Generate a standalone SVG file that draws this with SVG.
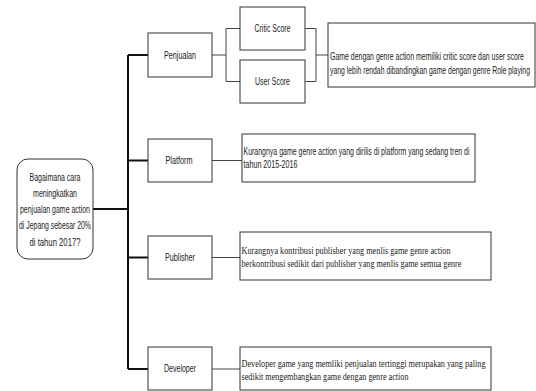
<svg xmlns="http://www.w3.org/2000/svg" width="536" height="391" viewBox="0 0 536 391">
<style>
.box{fill:#fff;stroke:#333;stroke-width:1}
.t{font-family:"Liberation Sans",Arial,sans-serif;font-size:10px;fill:#222}
.s{font-family:"Liberation Serif","Times New Roman",serif;font-size:10.5px;fill:#222}
.c{text-anchor:middle}
.thin{fill:none;stroke:#444;stroke-width:1}
.thick{fill:none;stroke:#111;stroke-width:2}
</style>
<rect width="536" height="391" fill="#fff"/>
<g id="connectors">
<path class="thick" d="M93,209 H128 M128,55 V369 M128,55 H148 M128,160.5 H148 M128,257.5 H148 M128,369 H148"/>
<path class="thin" d="M212,55 H226 M226,28.5 V81.5 M226,28.5 H240 M226,81.5 H240 M305,28.5 H316 M305,81.5 H316 M316,28.5 V81.5 M316,55 H328"/>
<path class="thin" d="M212,160.5 H242 M212,257.5 H240 M212,369 H240"/>
</g>
<g id="root">
<rect class="box" x="17" y="159" width="76" height="100" rx="11"/>
<text class="t c" x="55" y="180.5" textLength="51" lengthAdjust="spacingAndGlyphs">Bagaimana cara</text>
<text class="t c" x="55" y="196.5" textLength="44" lengthAdjust="spacingAndGlyphs">meningkatkan</text>
<text class="t c" x="55" y="212.5" textLength="70" lengthAdjust="spacingAndGlyphs">penjualan game action</text>
<text class="t c" x="55" y="229" textLength="72" lengthAdjust="spacingAndGlyphs">di Jepang sebesar 20%</text>
<text class="t c" x="55" y="245.5" textLength="51" lengthAdjust="spacingAndGlyphs">di tahun 2017?</text>
</g>
<g id="penjualan">
<rect class="box" x="148" y="33" width="64" height="44"/>
<text class="t c" x="180" y="58.5" textLength="32" lengthAdjust="spacingAndGlyphs">Penjualan</text>
</g>
<g id="critic">
<rect class="box" x="240" y="7" width="65" height="43"/>
<text class="t c" x="272.5" y="32" textLength="36" lengthAdjust="spacingAndGlyphs">Critic Score</text>
</g>
<g id="user">
<rect class="box" x="240" y="60" width="65" height="43"/>
<text class="t c" x="272.5" y="85" textLength="35" lengthAdjust="spacingAndGlyphs">User Score</text>
</g>
<g id="penjualan-desc">
<rect class="box" x="328" y="23" width="207" height="64"/>
<g transform="translate(330,0) scale(0.78,1)">
<text class="t" x="0" y="60" font-size="9" textLength="248.7" lengthAdjust="spacingAndGlyphs">Game dengan genre action memiliki critic score dan user score</text>
<text class="t" x="0" y="74" font-size="9" textLength="256.4" lengthAdjust="spacingAndGlyphs">yang lebih rendah dibandingkan game dengan genre Role playing</text>
</g>
</g>
<g id="platform">
<rect class="box" x="148" y="139" width="64" height="43"/>
<text class="t c" x="179" y="164" textLength="27" lengthAdjust="spacingAndGlyphs">Platform</text>
</g>
<g id="platform-desc">
<rect class="box" x="242" y="134" width="233" height="48"/>
<g transform="translate(243.5,0) scale(0.72,1)">
<text class="t" x="0" y="155.5" textLength="313.9" lengthAdjust="spacingAndGlyphs">Kurangnya game genre action yang dirilis di platform yang sedang tren di</text>
<text class="t" x="0" y="168.5" textLength="75" lengthAdjust="spacingAndGlyphs">tahun 2015-2016</text>
</g>
</g>
<g id="publisher">
<rect class="box" x="148" y="236" width="64" height="43"/>
<text class="t c" x="180" y="261" textLength="30" lengthAdjust="spacingAndGlyphs">Publisher</text>
</g>
<g id="publisher-desc">
<rect class="box" x="240" y="232" width="251" height="48"/>
<text class="s" x="241.5" y="253.5" textLength="209" lengthAdjust="spacingAndGlyphs">Kurangnya kontribusi publisher yang menlis game genre action</text>
<text class="s" x="241.5" y="266.5" textLength="220" lengthAdjust="spacingAndGlyphs">berkontribusi sedikit dari publisher yang menlis game semua genre</text>
</g>
<g id="developer">
<rect class="box" x="148" y="347" width="64" height="43"/>
<text class="t c" x="180" y="372" textLength="32" lengthAdjust="spacingAndGlyphs">Developer</text>
</g>
<g id="developer-desc">
<rect class="box" x="240" y="347" width="251" height="43"/>
<text class="s" x="241.5" y="366.5" textLength="244" lengthAdjust="spacingAndGlyphs">Developer game yang memliki penjualan tertinggi merupakan yang paling</text>
<text class="s" x="241.5" y="379.5" textLength="167" lengthAdjust="spacingAndGlyphs">sedikit mengembangkan game dengan genre action</text>
</g>
</svg>
